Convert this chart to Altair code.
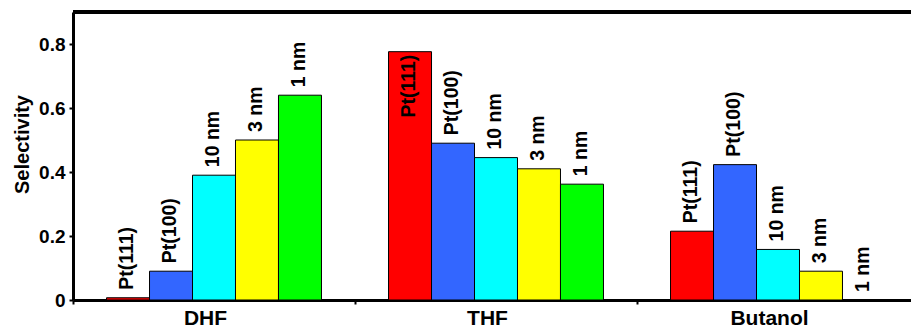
import altair as alt
import pandas as pd

groups = ["DHF", "THF", "Butanol"]
catalysts = ["Pt(111)", "Pt(100)", "10 nm", "3 nm", "1 nm"]
colors = ["#FF0000", "#3366FF", "#00FFFF", "#FFFF00", "#00FF00"]
dhf = [0.007, 0.09, 0.39, 0.50, 0.64]
thf = [0.776, 0.49, 0.445, 0.41, 0.362]
butanol = [0.215, 0.423, 0.158, 0.09, 0.0]
y_ticks = [0, 0.1, 0.2, 0.3, 0.4, 0.5, 0.6, 0.7, 0.8]

rows = []
for g, vals in zip(groups, [dhf, thf, butanol]):
    for c, v in zip(catalysts, vals):
        rows.append({"group": g, "catalyst": c, "value": v})
df = pd.DataFrame(rows)

FONT = "Arial, Liberation Sans, Helvetica, sans-serif"

x_enc = alt.X(
    "group:N",
    sort=groups,
    title=None,
    scale=alt.Scale(range=[0, 846], paddingInner=0, paddingOuter=0),
    axis=alt.Axis(
        domainWidth=3, domainColor="black", tickBand="extent", tickSize=4,
        tickWidth=2, tickColor="black", labelFontSize=21, labelFont=FONT,
        labelFontWeight="bold", labelColor="black", labelOffset=-9,
        labelPadding=3, labelAngle=0,
    ),
)
xoff_enc = alt.XOffset(
    "catalyst:N", sort=catalysts,
    scale=alt.Scale(paddingInner=0, paddingOuter=0.78),
)
y_enc = alt.Y(
    "value:Q",
    scale=alt.Scale(domain=[0, 0.9], nice=False),
    axis=alt.Axis(
        values=y_ticks, grid=False, domainWidth=3, domainColor="black",
        tickSize=4, tickWidth=2, tickColor="black", labelFontSize=19,
        labelFont=FONT, labelFontWeight="bold", labelColor="black",
        labelPadding=4,
        labelExpr="round(datum.value*10) % 2 == 0 ? format(datum.value, '.1~f') : ''",
        title="Selectivity", titleFontSize=20, titleFont=FONT,
        titleFontWeight="bold", titleColor="black", titleX=-51, titleY=132,
        titleAngle=270, titleAlign="center", titleBaseline="middle",
    ),
)

base = alt.Chart(df).encode(x=x_enc, xOffset=xoff_enc)

bars = base.mark_bar(stroke="black", strokeWidth=1).encode(
    y=y_enc,
    color=alt.Color("catalyst:N", scale=alt.Scale(domain=catalysts, range=colors), legend=None),
)

labels_out = base.transform_filter("datum.value <= 0.7").mark_text(
    angle=270, align="left", baseline="middle", dx=8, dy=-1,
    fontSize=19.5, font=FONT, fontWeight="bold", color="black",
).encode(y=alt.Y("value:Q"), text="catalyst:N")

labels_in = base.transform_filter("datum.value > 0.7").mark_text(
    angle=270, align="right", baseline="middle", dx=-3, dy=-1,
    fontSize=19.5, font=FONT, fontWeight="bold", color="black",
).encode(y=alt.Y("value:Q"), text="catalyst:N")

top_line = alt.Chart(df).mark_rule(color="black", strokeWidth=3).encode(
    y=alt.datum(0.9)
)

chart = alt.layer(bars, labels_out, labels_in, top_line).properties(
    width=838, height=288,
    autosize=alt.AutoSizeParams(type="none"),
    padding={"left": 73, "top": 12, "right": 0, "bottom": 31},
    background="white",
).configure_view(strokeWidth=0)

chart.save("out.html", embed_options={"renderer": "svg", "actions": False})
